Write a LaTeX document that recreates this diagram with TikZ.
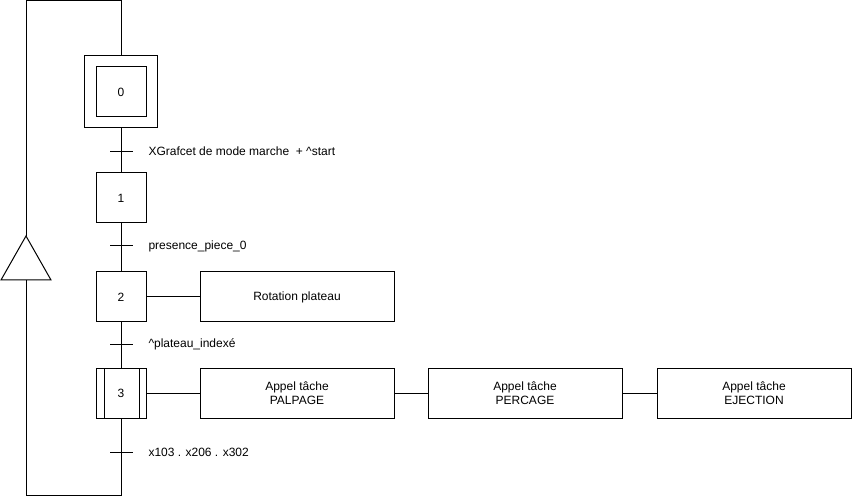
\documentclass[tikz,border=0pt]{standalone}
\usepackage{fontspec}
\setmainfont{Liberation Sans}
\usepackage{tikz}
\usetikzlibrary{positioning}

\begin{document}
\begin{tikzpicture}[
    x=1pt, y=1pt, line width=1pt,
    etape/.style={draw, minimum width=50pt, minimum height=50pt,
                  inner sep=0pt, outer sep=0pt,
                  font=\fontsize{12}{14}\selectfont},
    action/.style={draw, minimum width=194pt, minimum height=50pt,
                   inner sep=0pt, outer sep=0pt, align=center,
                   font=\fontsize{12}{14}\selectfont},
    recep/.style={anchor=base west, inner sep=0pt,
                  font=\fontsize{12}{14}\selectfont},
  ]
    \useasboundingbox (0,0) rectangle (852,-497);

    % etapes
    \node[etape] (s0) at (121,-92) {0};
    \node[draw, outer sep=0pt, minimum width=73pt, minimum height=72pt]
      (s0o) at (s0.center) {};
    \node[etape, below=45pt of s0o] (s1) {1};
    \node[etape, below=49pt of s1] (s2) {2};
    \node[etape, below=46pt of s2] (s3) {3};
    \draw ([xshift=8pt]s3.north west) -- ([xshift=8pt]s3.south west);
    \draw ([xshift=-7pt]s3.north east) -- ([xshift=-7pt]s3.south east);

    % actions
    \node[action, right=54pt of s2] (a2) {Rotation plateau};
    \node[action, right=54pt of s3] (a31) {Appel tâche\\PALPAGE};
    \node[action, right=34pt of a31] (a32) {Appel tâche\\PERCAGE};
    \node[action, right=35pt of a32] (a33) {Appel tâche\\EJECTION};

    \draw (s0o) -- (s1);
    \draw (s1) -- (s2);
    \draw (s2) -- (s3);
    \draw (s2) -- (a2);
    \draw (s3) -- (a31);
    \draw (a31) -- (a32);
    \draw (a32) -- (a33);

    % transitions
    \coordinate (t01) at (121,-152);
    \coordinate (t12) at (121,-246);
    \coordinate (t23) at (121,-344);
    \coordinate (t30) at (121,-452);
    \foreach \t in {t01,t12,t23,t30}
      \draw ([xshift=-11pt]\t) -- ([xshift=12pt]\t);

    \node[recep] (r01) at ([xshift=27pt,yshift=-4pt]t01)
      {XGrafcet de mode marche\ \ + \textasciicircum start};
    \node[recep] (r12) at ([xshift=27pt,yshift=-4pt]t12) {presence\_piece\_0};
    \node[recep] (r23) at ([xshift=27pt,yshift=-4pt]t23)
      {\textasciicircum plateau\_indexé};
    \node[recep] (r30) at ([xshift=27pt,yshift=-4pt]t30) {x103 . x206 . x302};

    % renvoi
    \coordinate (coinh) at (26,-0.5);
    \coordinate (coinb) at (26,-495.5);
    \coordinate (pointe) at (26,-236);
    \coordinate (bgauche) at (1,-280);
    \coordinate (bdroite) at (51,-280);
    \coordinate (bmilieu) at (26,-280);
    \draw (s0o.north) |- (coinh) -- (pointe);
    \draw (s3.south) |- (coinb) -- (bmilieu);
    \draw (pointe) -- (bgauche) -- (bdroite) -- cycle;
\end{tikzpicture}
\end{document}
